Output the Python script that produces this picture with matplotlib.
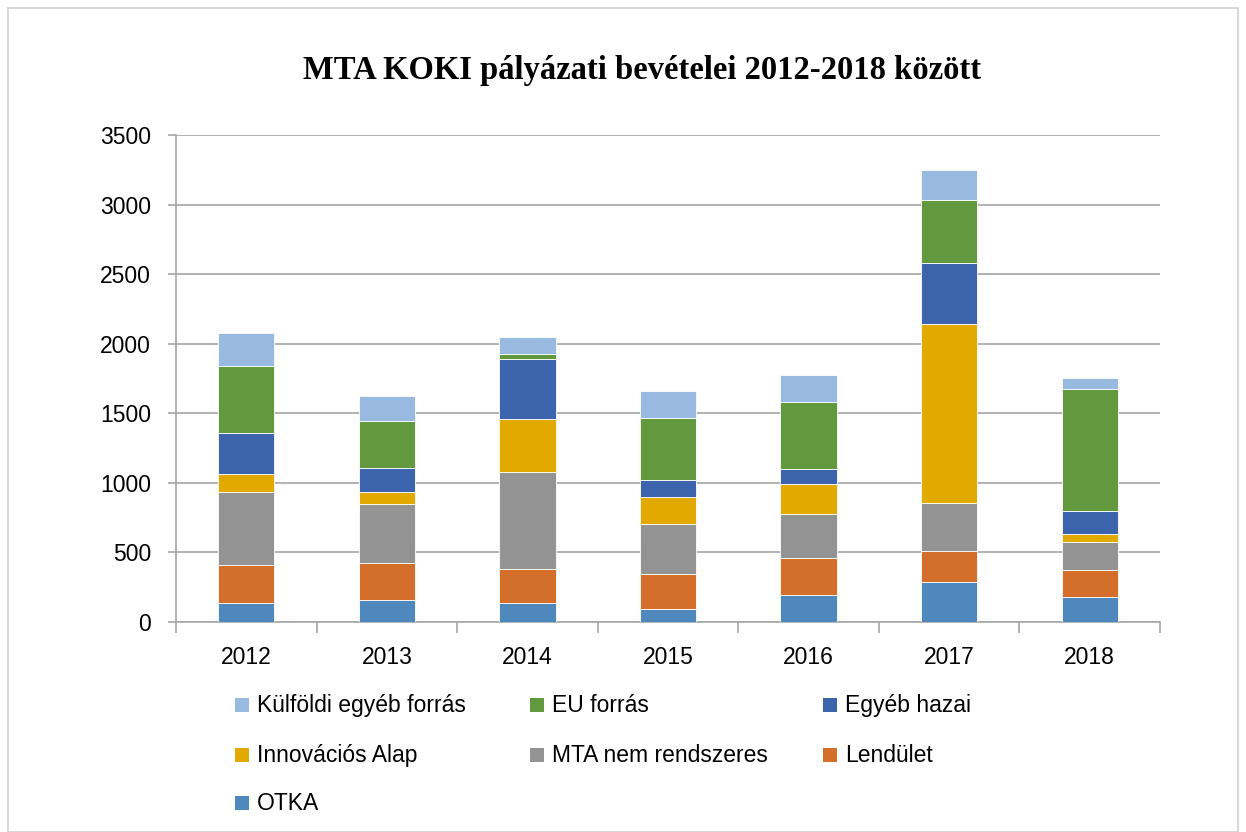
import matplotlib.pyplot as plt
from matplotlib.patches import Rectangle
import numpy as np

# --- data ---
years = ["2012", "2013", "2014", "2015", "2016", "2017", "2018"]

otka = [139, 158, 139, 96, 197, 288, 178]
lendulet = [269, 269, 242, 247, 263, 224, 195]
mta_nem_rendszeres = [525, 422, 698, 360, 317, 341, 204]
innovacios_alap = [129, 84, 379, 194, 213, 1291, 55]
egyeb_hazai = [293, 175, 434, 127, 111, 436, 164]
eu_forras = [482, 333, 36, 444, 477, 451, 880]
kulfoldi_egyeb = [240, 182, 122, 191, 194, 214, 81]

series_names = ["OTKA", "Lendület", "MTA nem rendszeres", "Innovációs Alap",
                "Egyéb hazai", "EU forrás", "Külföldi egyéb forrás"]
series_values = [otka, lendulet, mta_nem_rendszeres, innovacios_alap,
                 egyeb_hazai, eu_forras, kulfoldi_egyeb]
series_colors = ["#4F88BD", "#D36F2B", "#939393", "#E2AA00",
                 "#3C64AD", "#62993E", "#98BAE0"]

SANS = ["Liberation Sans", "DejaVu Sans"]
SERIF = ["Liberation Serif", "DejaVu Serif"]
W, H = 1246, 832

fig = plt.figure(figsize=(W / 100, H / 100), dpi=100)
ax = fig.add_axes([176 / W, 1 - 622 / H, (1160 - 176) / W, (622 - 135) / H])

# outer chart frame
fig.patches.append(Rectangle((8 / W, 0), 1230 / W, 824 / H,
                             transform=fig.transFigure, fill=False,
                             edgecolor="#d0d0d0", linewidth=1.2))

x = np.arange(len(years))
bottom = np.zeros(len(years))
for name, vals, col in zip(series_names, series_values, series_colors):
    ax.bar(x, vals, width=0.4, bottom=bottom, color=col, label=name,
           edgecolor="white", linewidth=0.6, zorder=3)
    bottom += np.array(vals)

ax.set_xlim(-0.5, len(years) - 0.5)
ax.set_ylim(0, 3500)
ax.set_yticks(range(0, 3501, 500))
ax.yaxis.grid(True, color="#a6a6a6", linewidth=1.2, zorder=0)
ax.set_axisbelow(True)

for s in ["top", "right"]:
    ax.spines[s].set_visible(False)
for s in ["left", "bottom"]:
    ax.spines[s].set_color("#a6a6a6")
    ax.spines[s].set_linewidth(1.2)

ax.set_xticks(x)
ax.set_xticklabels(years, fontfamily=SANS, fontsize=16.5)
ax.tick_params(axis="x", length=0, pad=17)
ax.set_xticks(np.arange(-0.5, len(years), 1), minor=True)
ax.tick_params(axis="x", which="minor", length=8, color="#a6a6a6", width=1.2)
ax.tick_params(axis="y", length=6, color="#a6a6a6", width=1.2, pad=12)
for t in ax.get_yticklabels():
    t.set_fontfamily(SANS)
    t.set_fontsize(16.5)

fig.text(642 / W, 1 - 70 / H, "MTA KOKI pályázati bevételei 2012-2018 között",
         ha="center", va="center", fontfamily=SERIF, fontsize=23.5, fontweight="bold")

# legend laid out as in the reference (row-major, 3 columns)
order = [6, 5, 4, 3, 2, 1, 0]
col_x = [235, 530, 823]
row_y = [705, 755, 803]
for i, idx in enumerate(order):
    cx = col_x[i % 3]
    cy = row_y[i // 3]
    fig.patches.append(Rectangle((cx / W, 1 - (cy + 7) / H), 14 / W, 14 / H,
                                 transform=fig.transFigure,
                                 facecolor=series_colors[idx], edgecolor="none"))
    fig.text((cx + 22) / W, 1 - (cy + 7) / H, series_names[idx], ha="left",
             va="baseline", fontfamily=SANS, fontsize=16.5)

fig.savefig("out.png", dpi=100)
